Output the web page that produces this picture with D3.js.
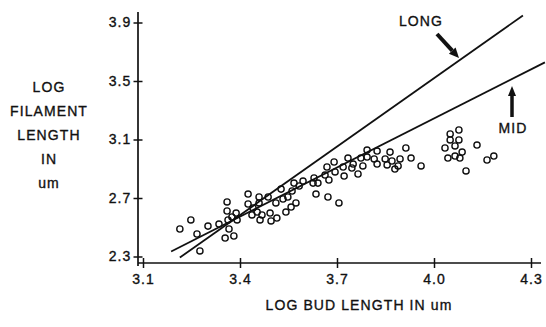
<!DOCTYPE html>
<html><head><meta charset="utf-8">
<script src="https://cdn.jsdelivr.net/npm/d3@7"></script>
<style>
html,body{margin:0;padding:0;background:#fff;}
svg{display:block;}
text{font-family:"Liberation Sans",Arial,sans-serif;fill:#111;stroke:#111;stroke-width:0.35px;}
</style></head>
<body>
<script>
// ---- data ----
const xTicks = [3.1, 3.4, 3.7, 4.0, 4.3];
const yTicks = [2.3, 2.7, 3.1, 3.5, 3.9];
const xTickLabels = ["3.1", "3.4", "3.7", "4.0", "4.3"];
const yTickLabels = ["2.3", "2.7", "3.1", "3.5", "3.9"];
const budLength = [3.214,3.248,3.267,3.276,3.301,3.335,3.354,3.366,3.381,3.363,3.360,3.360,3.388,3.391,3.375,
  3.425,3.425,3.440,3.437,3.459,3.459,3.453,3.462,3.468,3.487,3.493,3.496,3.511,3.514,3.527,3.533,3.542,3.548,
  3.558,3.561,3.567,3.573,3.583,3.595,3.629,3.626,3.641,3.635,3.669,3.663,3.672,3.675,3.691,3.694,3.706,3.719,
  3.722,3.734,3.746,3.750,3.765,3.774,3.780,3.793,3.793,3.815,3.824,3.824,3.849,3.855,3.864,3.870,3.879,3.889,
  3.895,3.913,3.929,3.960,4.034,4.043,4.050,4.050,4.065,4.065,4.077,4.077,4.080,4.087,4.099,4.133,4.164,4.185];
const filamentLength = [2.488,2.550,2.454,2.338,2.508,2.522,2.426,2.488,2.440,2.550,2.611,2.673,2.597,2.550,2.570,
  2.727,2.659,2.632,2.584,2.707,2.666,2.604,2.550,2.584,2.707,2.597,2.543,2.666,2.563,2.761,2.693,2.604,2.707,
  2.638,2.748,2.802,2.666,2.782,2.816,2.837,2.802,2.802,2.727,2.912,2.857,2.707,2.823,2.946,2.878,2.666,2.912,
  2.850,2.973,2.905,2.932,2.864,2.973,2.919,3.028,2.980,2.967,3.021,2.932,2.967,2.926,3.014,2.953,2.898,2.919,
  2.967,3.042,2.973,2.919,3.042,2.973,3.138,3.097,3.056,2.987,3.165,3.097,2.973,3.014,2.885,3.062,2.960,2.987];
const lineNames = ["LONG", "MID"];
const lineStart = [[3.214, 2.293], [3.187, 2.334]];
const lineEnd = [[4.275, 3.948], [4.343, 3.627]];
const yTitleLines = ["LOG", "FILAMENT", "LENGTH", "IN", "um"];
const xTitle = "LOG BUD LENGTH IN um";

// ---- chart ----
const W = 546, H = 327;
const svg = d3.select("body").append("svg").attr("width", W).attr("height", H);
const x = d3.scaleLinear().domain([3.1, 4.3]).range([143, 531]);
const y = d3.scaleLinear().domain([2.3, 3.9]).range([256.5, 22.5]);
const axisY0 = 263, axisX0 = 138;
const ls = "1.1px";

// x axis
svg.append("line").attr("x1", axisX0).attr("x2", 541).attr("y1", axisY0).attr("y2", axisY0)
  .attr("stroke", "#111").attr("stroke-width", 1.7);
const gx = svg.append("g").attr("transform", `translate(0,${axisY0})`)
  .call(d3.axisBottom(x).tickValues(xTicks).tickFormat((d, i) => xTickLabels[i]).tickSize(5).tickPadding(6));
gx.select(".domain").remove();
gx.selectAll(".tick line").attr("y1", -5).attr("y2", 5).attr("stroke", "#111").attr("stroke-width", 1.5);
gx.selectAll(".tick text").style("font-size", "14px").style("letter-spacing", ls).attr("fill", "#111")
  .style("font-family", '"Liberation Sans",Arial,sans-serif');

// y axis
svg.append("line").attr("x1", axisX0).attr("x2", axisX0).attr("y1", 12).attr("y2", axisY0 + 3)
  .attr("stroke", "#111").attr("stroke-width", 1.7);
const gy = svg.append("g").attr("transform", `translate(${axisX0},0)`)
  .call(d3.axisLeft(y).tickValues(yTicks).tickFormat((d, i) => yTickLabels[i]).tickSize(4.5).tickPadding(2));
gy.select(".domain").remove();
gy.selectAll(".tick line").attr("x1", -4.5).attr("x2", 4.5).attr("stroke", "#111").attr("stroke-width", 1.5);
gy.selectAll(".tick text").style("font-size", "14px").style("letter-spacing", ls).attr("fill", "#111")
  .style("font-family", '"Liberation Sans",Arial,sans-serif');

// regression lines
svg.append("g").selectAll("line").data(lineNames).join("line")
  .attr("x1", (d, i) => x(lineStart[i][0])).attr("y1", (d, i) => y(lineStart[i][1]))
  .attr("x2", (d, i) => x(lineEnd[i][0])).attr("y2", (d, i) => y(lineEnd[i][1]))
  .attr("stroke", "#111").attr("stroke-width", 1.8);

// points
svg.append("g").selectAll("circle").data(budLength).join("circle")
  .attr("cx", d => x(d)).attr("cy", (d, i) => y(filamentLength[i])).attr("r", 3.1)
  .attr("fill", "none").attr("stroke", "#111").attr("stroke-width", 1.4);

// annotations
svg.append("text").attr("x", 421).attr("y", 26).attr("text-anchor", "middle")
  .style("font-size", "14px").style("letter-spacing", ls).text(lineNames[0]);
svg.append("text").attr("x", 513).attr("y", 133).attr("text-anchor", "middle")
  .style("font-size", "14px").style("letter-spacing", ls).text(lineNames[1]);
function arrow(x1, y1, x2, y2, sw, hl, hw) {
  const a = Math.atan2(y2 - y1, x2 - x1);
  const bx = x2 - hl * Math.cos(a), by = y2 - hl * Math.sin(a);
  svg.append("line").attr("x1", x1).attr("y1", y1).attr("x2", bx).attr("y2", by)
    .attr("stroke", "#111").attr("stroke-width", sw);
  const px = -Math.sin(a) * hw / 2, py = Math.cos(a) * hw / 2;
  svg.append("path").attr("d", `M${x2},${y2}L${bx + px},${by + py}L${bx - px},${by - py}Z`).attr("fill", "#111");
}
arrow(437, 34, 459, 58, 4, 10, 9);
arrow(512, 117, 512, 86, 3.5, 10, 8);

// axis titles
svg.append("g").selectAll("text").data(yTitleLines).join("text")
  .attr("x", 49).attr("y", (d, i) => 92 + i * 24).attr("text-anchor", "middle")
  .style("font-size", "14px").style("letter-spacing", ls).text(d => d);
svg.append("text").attr("x", 359).attr("y", 310).attr("text-anchor", "middle")
  .style("font-size", "14px").style("letter-spacing", ls).text(xTitle);
</script>
</body></html>
